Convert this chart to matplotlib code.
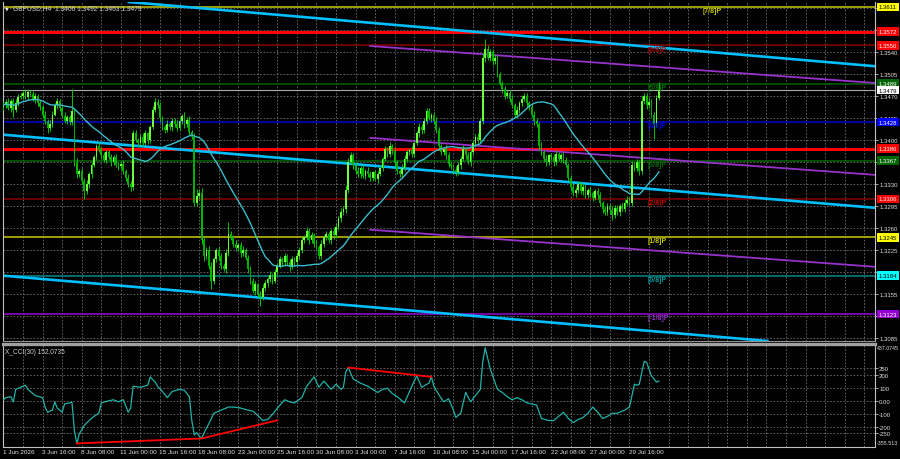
import numpy as np
import pandas as pd
import matplotlib
matplotlib.use("Agg")
import matplotlib.pyplot as plt
import matplotlib.transforms as mtransforms

plt.rcParams["font.family"] = ["Liberation Sans", "DejaVu Sans"]

# prices are kept as pips above BASE (1.3455 -> 455)
BASE = 1.3
first_open_pips = 452

# H4 closes, 1 Jun 2026 00:00 .. 31 Jul 16:00 (16 bars per row)
closes_pips = [
    455, 460, 450, 462, 448, 458, 468, 470, 474, 468, 476, 472, 465, 470, 458, 452,
    440, 430, 418, 425, 440, 455, 462, 450, 438, 430, 436, 428, 445, 365, 345, 350,
    335, 318, 330, 345, 360, 372, 390, 385, 375, 368, 380, 372, 365, 372, 360, 358,
    362, 350, 340, 330, 325, 410, 400, 395, 405, 395, 410, 400, 420, 448, 460, 455,
    435, 420, 415, 425, 420, 430, 425, 418, 430, 438, 425, 432, 412, 405, 300, 310,
    315, 240, 215, 225, 200, 175, 210, 225, 215, 200, 195, 220, 250, 245, 235, 228,
    232, 220, 225, 212, 195, 175, 160, 170, 155, 150, 165, 172, 178, 185, 175, 190,
    200, 210, 205, 215, 205, 198, 210, 205, 215, 225, 240, 245, 255, 240, 248, 235,
    230, 215, 235, 245, 250, 240, 255, 248, 262, 275, 285, 290, 320, 365, 375, 360,
    350, 345, 355, 342, 350, 345, 340, 348, 338, 345, 355, 370, 385, 378, 390, 382,
    365, 350, 345, 355, 370, 380, 384, 378, 395, 410, 420, 415, 430, 445, 435, 440,
    430, 415, 390, 380, 385, 375, 362, 358, 352, 348, 360, 370, 385, 375, 365, 380,
    395, 405, 400, 430, 530, 545, 530, 540, 525, 530, 505, 490, 480, 470, 475, 465,
    455, 440, 448, 458, 465, 470, 458, 452, 440, 430, 425, 390, 380, 370, 365, 375,
    372, 365, 378, 370, 375, 368, 360, 340, 325, 315, 320, 330, 318, 325, 312, 320,
    315, 308, 318, 312, 300, 290, 285, 295, 288, 280, 292, 285, 295, 290, 300, 305,
    300, 360, 355, 365, 350, 462, 470, 455, 460, 440, 425, 466, 479,
]
# how far the high / low pokes out of the body, pips
hi_wick = [
    5, 4, 6, 3, 5, 6, 4, 5, 3, 6, 4, 3, 5, 4, 3, 5,
    4, 5, 3, 6, 5, 4, 5, 3, 4, 6, 3, 4, 36, 5, 6, 4,
    5, 4, 6, 3, 5, 4, 3, 6, 4, 5, 3, 4, 6, 3, 5, 4,
    4, 6, 3, 5, 4, 6, 5, 3, 4, 6, 5, 3, 4, 5, 6, 4,
    5, 3, 4, 6, 3, 5, 4, 6, 5, 3, 6, 4, 5, 4, 5, 12,
    6, 8, 5, 4, 6, 5, 4, 3, 6, 5, 4, 6, 19, 5, 4, 6,
    4, 5, 6, 3, 5, 4, 6, 5, 3, 4, 6, 5, 4, 6, 3, 5,
    4, 6, 3, 5, 4, 6, 5, 3, 6, 4, 5, 3, 6, 4, 5, 4,
    5, 3, 6, 4, 5, 4, 3, 6, 5, 4, 6, 5, 8, 6, 5, 4,
    4, 6, 3, 5, 4, 6, 5, 3, 4, 6, 5, 3, 5, 4, 6, 4,
    5, 3, 4, 6, 5, 4, 3, 6, 5, 4, 6, 5, 4, 6, 5, 3,
    4, 6, 5, 3, 4, 6, 5, 3, 4, 6, 5, 4, 6, 3, 5, 4,
    5, 4, 6, 5, 8, 15, 6, 5, 4, 6, 5, 3, 4, 6, 5, 4,
    6, 4, 5, 3, 6, 4, 5, 3, 6, 5, 4, 3, 6, 4, 5, 3,
    4, 6, 5, 3, 4, 6, 5, 3, 4, 6, 5, 4, 3, 6, 5, 4,
    5, 3, 4, 6, 5, 3, 4, 5, 3, 6, 4, 5, 3, 4, 6, 5,
    4, 6, 5, 4, 3, 8, 5, 4, 6, 5, 4, 5, 13,
]
lo_wick = [
    4, 5, 3, 6, 12, 4, 5, 3, 6, 4, 5, 3, 4, 6, 5, 4,
    6, 5, 8, 4, 5, 3, 6, 5, 4, 3, 5, 4, 5, 6, 5, 4,
    5, 12, 4, 6, 5, 3, 4, 5, 6, 4, 5, 3, 6, 5, 4, 6,
    5, 4, 6, 5, 6, 5, 4, 6, 3, 5, 4, 6, 5, 3, 4, 5,
    6, 4, 5, 3, 4, 6, 5, 4, 3, 5, 6, 4, 5, 4, 6, 5,
    4, 6, 8, 5, 6, 12, 5, 4, 6, 5, 4, 6, 5, 4, 6, 5,
    4, 6, 5, 3, 6, 5, 4, 6, 5, 14, 4, 5, 6, 4, 5, 3,
    5, 4, 6, 5, 4, 6, 3, 5, 4, 6, 5, 4, 5, 6, 4, 5,
    4, 5, 4, 6, 5, 4, 6, 5, 4, 6, 5, 4, 6, 5, 4, 6,
    5, 4, 6, 3, 5, 4, 6, 5, 4, 6, 3, 5, 4, 6, 5, 4,
    6, 5, 4, 6, 5, 3, 4, 6, 5, 4, 5, 6, 4, 5, 3, 6,
    5, 4, 6, 5, 4, 6, 5, 4, 6, 5, 4, 6, 3, 5, 4, 6,
    4, 6, 5, 4, 5, 6, 4, 5, 6, 4, 5, 3, 6, 5, 4, 5,
    5, 4, 6, 5, 4, 3, 6, 5, 4, 6, 5, 6, 5, 4, 6, 5,
    4, 6, 5, 4, 6, 5, 4, 6, 5, 4, 6, 5, 4, 6, 5, 4,
    6, 5, 4, 6, 5, 6, 4, 5, 6, 8, 4, 5, 6, 4, 5, 4,
    5, 6, 4, 5, 6, 4, 5, 6, 5, 4, 24, 4, 3,
]

# CCI(30)
cci_bars = [0, 1, 3, 4, 5, 7, 9, 10, 11, 13, 16, 17, 18, 20, 21, 22, 24, 25, 27, 28,
            29, 30, 31, 33, 35, 37, 39, 40, 43, 45, 47, 49, 51, 52, 53, 56, 59, 60, 62, 63,
            65, 67, 69, 72, 74, 76, 77, 78, 79, 80, 81, 83, 84, 86, 89, 92, 94, 97, 100, 102,
            104, 106, 108, 110, 112, 115, 117, 119, 122, 124, 127, 129, 131, 134, 136, 138, 139, 140, 141, 143,
            146, 149, 153, 155, 157, 159, 161, 164, 167, 169, 171, 174, 175, 176, 178, 180, 182, 184, 185, 187,
            189, 191, 194, 195, 196, 197, 199, 202, 204, 206, 208, 210, 212, 214, 216, 218, 220, 223, 225, 227,
            229, 231, 233, 235, 237, 239, 241, 243, 245, 247, 249, 251, 254, 256, 258, 259, 260, 262, 263, 265,
            267, 268]
cci_vals = [8, 24, 32, -8, 88, 104, 120, 88, 72, 40, 24, -48, -88, -72, -8, -56, -88, -24, -16, -10,
            -230, -328, -256, -190, -152, -120, -96, -16, 0, 8, -8, 8, -88, -56, 112, 104, 120, 184, 144, 112,
            72, 24, 72, 88, 80, 32, -150, -262, -245, -270, -290, -210, -176, -96, -72, -48, -48, -56, -72, -80,
            -112, -152, -144, -104, -56, 8, -8, -16, 24, 112, 184, 104, 152, 88, 128, 88, 104, 224, 256, 168,
            136, 112, 64, 88, 96, 56, 32, -16, 112, 192, 104, 136, 184, 112, 48, -8, 16, -72, -128, -96,
            64, -8, 64, 88, 304, 408, 248, 88, 64, 32, 8, 24, 8, -16, -24, -32, -136, -152, -152, -120,
            -88, -136, -168, -144, -128, -96, -48, -88, -136, -120, -96, -96, -72, -48, 128, 120, 128, 304, 296, 192,
            144, 152]
cci_last = 152.0735
cci_top, cci_bottom = 437.0745, -355.513

# drawn objects: (bar, value) anchors
cyan_channel = [((36, 1.3624), (356, 1.3517)),
                ((0, 1.3408), (356, 1.3292)),
                ((0, 1.3184), (313, 1.3080))]
purple_channel = [((150, 1.3549), (357, 1.3490)),
                  ((150, 1.3403), (357, 1.3344)),
                  ((150, 1.3257), (357, 1.3198))]
cci_div_low = [(30, -328), (81, -290), (112, -150)]
cci_div_high = [(141, 256), (175, 184)]

murrey_prices = [1.3611, 1.3550, 1.3489, 1.3428, 1.3367, 1.3306, 1.3245, 1.3184, 1.3123]
murrey_names = ["[7/8]P", "[6/8]P", "[5/8]P", "[4/8]P", "[3/8]P", "[2/8]P", "[1/8]P", "[0/8]P", "[-1/8]P"]
murrey_line_colors = ["#C8C800", "#8B0000", "#006400", "#0000CD", "#006400", "#8B0000", "#C8C800", "#008B8B", "#9400D3"]
murrey_box_colors = ["#FFFF00", "#FF0000", "#006400", "#0000FF", "#006400", "#FF0000", "#FFFF00", "#00FFFF", "#9400D3"]
murrey_text_colors = ["#C8C800", "#B00000", "#007000", "#0000E0", "#007000", "#C00000", "#C8C800", "#00A0A0", "#9932CC"]
red_levels = [1.3572, 1.3386]
bid = 1.3479
ohlc_last = (1.3466, 1.3492, 1.3463, 1.3479)

date_bars = list(range(0, 257, 16))
date_labels = ["1 Jun 2026", "3 Jun 16:00", "8 Jun 08:00", "11 Jun 00:00", "15 Jun 16:00",
               "18 Jun 08:00", "23 Jun 00:00", "25 Jun 16:00", "30 Jun 08:00", "3 Jul 00:00",
               "7 Jul 16:00", "10 Jul 08:00", "15 Jul 00:00", "17 Jul 16:00", "22 Jul 08:00",
               "27 Jul 00:00", "29 Jul 16:00"]

# ---- build candles
c = BASE + np.array(closes_pips) / 1e4
o = np.r_[BASE + first_open_pips / 1e4, c[:-1]]
hi = np.maximum(o, c) + np.array(hi_wick) / 1e4
lo = np.minimum(o, c) - np.array(lo_wick) / 1e4
x = np.arange(len(c))
ma = pd.Series(c).rolling(30, min_periods=1).mean()

XMIN, XMAX = -0.2, 356.4
GRID = dict(color="#6E6E6E", linestyle=(0, (2, 2)), linewidth=0.6)
FS = 4.3

fig = plt.figure(figsize=(9, 4.6), dpi=100, facecolor="black")
ax = fig.add_axes([3 / 900, 1 - 342 / 460, 872 / 900, 339 / 460], facecolor="black")
ax2 = fig.add_axes([3 / 900, 1 - 448 / 460, 872 / 900, 103 / 460], facecolor="black")

for a in (ax, ax2):
    a.set_xlim(XMIN, XMAX)
    a.set_xticks(np.arange(0, 357, 8))
    a.tick_params(axis="x", length=0, labelbottom=False)
    a.grid(True, **GRID)
    a.set_axisbelow(True)
    a.yaxis.tick_right()
    a.tick_params(axis="y", colors="#E0E0E0", labelsize=FS, length=2, width=0.5, pad=1)
    for s in a.spines.values():
        s.set_color("#C0C0C0")
        s.set_linewidth(0.8)

ax.set_ylim(1.30802, 1.36189)
reg_ticks = [round(1.3085 + 0.0035 * k, 4) for k in range(16)]
boxed = murrey_prices + red_levels + [bid]
ax.set_yticks(reg_ticks)
# a regular label sitting under a coloured price box is hidden, as in the terminal
ax.set_yticklabels([f"{v:.4f}" if min(abs(v - b) for b in boxed) > 0.00065 else "" for v in reg_ticks])
ax.spines["top"].set_visible(False)
ax.spines["bottom"].set_color("#909090")

# horizontal levels
for p, col in zip(murrey_prices, murrey_line_colors):
    ax.axhline(p, color=col, lw=1.1, zorder=1.5)
for p in red_levels:
    ax.axhline(p, color="#FF0000", lw=2.2, zorder=1.6)
ax.axhline(bid, color="#A8A8A8", lw=0.8, zorder=1.6)

# channels
for p1, p2 in cyan_channel:
    ax.axline(p1, p2, color="#00BFFF", lw=1.9, zorder=2)
for p1, p2 in purple_channel:
    ax.plot([p1[0], p2[0]], [p1[1], p2[1]], color="#9932CC", lw=1.3, zorder=2)

# candles
up = c >= o
ax.vlines(x, lo, hi, colors="#00C800", lw=0.7, zorder=3)
ax.bar(x, np.maximum(np.abs(c - o), 0.00004), bottom=np.minimum(o, c), width=0.72,
       color=np.where(up, "#6CFF3A", "#00B000"), linewidth=0, zorder=3.1)
ax.plot(x, ma, color="#3CBCCC", lw=1.0, zorder=3.5)

# murrey captions
for p, name, col in zip(murrey_prices, murrey_names, murrey_text_colors):
    bx = 286 if name == "[7/8]P" else 263.5
    ax.text(bx, p - 0.00003, name, color=col, fontsize=5, fontweight="bold", va="top", ha="left", zorder=4)

# right side price boxes
tr = mtransforms.blended_transform_factory(ax.transAxes, ax.transData)
boxes = list(zip(murrey_prices, murrey_box_colors)) + [(p, "#FF0000") for p in red_levels] + [(bid, "#FFFFFF")]
for p, bg in boxes:
    txt = "black" if bg in ("#FFFF00", "#00FFFF", "#FFFFFF") else "white"
    ax.text(1 + 4 / 872, p, f"{p:.4f}", transform=tr, fontsize=FS, color=txt, va="center", ha="left",
            bbox=dict(boxstyle="square,pad=0.3", fc=bg, ec="none"), clip_on=False, zorder=10)

ax.text(2 / 872, 1 - 3 / 339, "\u25bc", transform=ax.transAxes, fontsize=3.5, color="#E0E0E0",
        va="top", ha="left", family="DejaVu Sans")
ax.text(10 / 872, 1 - 2 / 339, "GBPUSD,H4  " + " ".join(f"{v:.4f}" for v in ohlc_last),
        transform=ax.transAxes, fontsize=4.8, color="#D0D0D0", va="top", ha="left")

# ---- CCI window
ax2.set_ylim(cci_bottom, cci_top)
cci_ticks = [250, 200, 100, 0, -100, -200, -250]
ax2.set_yticks(cci_ticks)
ax2.set_yticklabels(["0.00" if v == 0 else str(v) for v in cci_ticks])
ax2.spines["top"].set_color("#A0A0A0")
ax2.spines["top"].set_linewidth(2.4)
ax2.plot(cci_bars, cci_vals, color="#20B2AA", lw=0.9, zorder=3)
ax2.plot(*zip(*cci_div_low), color="#FF0000", lw=1.3, zorder=4)
ax2.plot(*zip(*cci_div_high), color="#FF0000", lw=1.3, zorder=4)
ax2.text(1 + 2 / 872, 1 - 1 / 103, f"{cci_top:.4f}", transform=ax2.transAxes, fontsize=3.8,
         color="#E0E0E0", va="top", ha="left", clip_on=False)
ax2.text(1 + 2 / 872, 2 / 103, f"{cci_bottom:.3f}", transform=ax2.transAxes, fontsize=3.8,
         color="#E0E0E0", va="bottom", ha="left", clip_on=False)
ax2.text(2 / 872, 1 - 4 / 103, f"X_CCI(30) {cci_last:.4f}", transform=ax2.transAxes, fontsize=4.7,
         color="#D0D0D0", va="top", ha="left")

tr2 = mtransforms.blended_transform_factory(ax2.transData, ax2.transAxes)
for b, lab in zip(date_bars, date_labels):
    ax2.text(b - 0.3, -2 / 103, lab, transform=tr2, fontsize=4.6, color="#E0E0E0",
             va="top", ha="left", clip_on=False)

fig.savefig("out.png", dpi=100, facecolor="black")
